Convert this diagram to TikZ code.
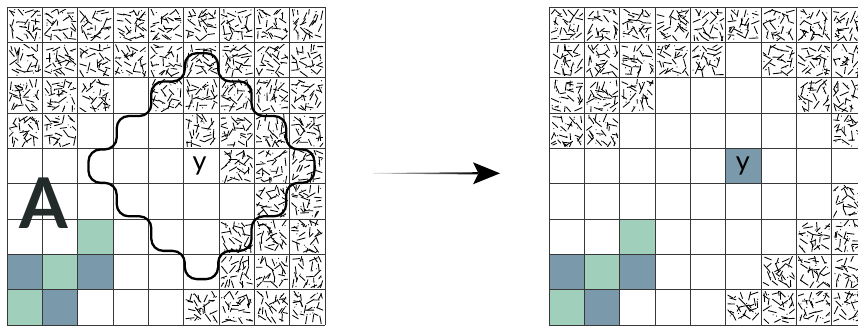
\documentclass[tikz,border=0pt]{standalone}
\usepackage{fontspec}
\setmainfont{Lato}
\usetikzlibrary{calc}
\definecolor{cellblue}{HTML}{7A99AB}
\definecolor{cellgreen}{HTML}{A0D0BB}
\definecolor{gridcol}{HTML}{383838}
\definecolor{inkcol}{HTML}{222A2A}
\tikzset{
  gridline/.style={draw=gridcol, line width=1pt},
  hatchstroke/.style={draw=black, line width=0.85pt},
  contour/.style={draw=black, line width=2.3pt, rounded corners=12pt},
  bluecell/.style={fill=cellblue},
  greencell/.style={fill=cellgreen},
}
\newcommand\hatchcell[2]{%
  \begin{scope}
    \clip (#1+0.05,#2+0.05) rectangle (#1+0.95,#2+0.95);
    \foreach \gi in {0,...,3}{%
      \foreach \gj in {0,...,3}{%
        \pgfmathsetmacro\hx{#1+0.06+(\gi+0.5)*0.22+0.16*(rnd-0.5)}%
        \pgfmathsetmacro\hy{#2+0.06+(\gj+0.5)*0.22+0.16*(rnd-0.5)}%
        \pgfmathsetmacro\ha{180*rnd}%
        \pgfmathsetmacro\hb{\ha+180}%
        \pgfmathsetmacro\hl{0.09+0.05*rnd}%
        \pgfmathsetmacro\hL{2*\hl}%
        \draw[hatchstroke] (\hx,\hy) ++(\ha:\hl) -- ++(\hb:\hL);
      }}
    \foreach \k in {1,...,8}{%
      \pgfmathsetmacro\hx{#1+0.08+0.84*rnd}%
      \pgfmathsetmacro\hy{#2+0.08+0.84*rnd}%
      \pgfmathsetmacro\ha{180*rnd}%
      \pgfmathsetmacro\hb{\ha+180}%
      \pgfmathsetmacro\hl{0.06+0.04*rnd}%
      \pgfmathsetmacro\hL{2*\hl}%
      \draw[hatchstroke] (\hx,\hy) ++(\ha:\hl) -- ++(\hb:\hL);
    }
    \foreach \k in {1,...,10}{%
      \pgfmathsetmacro\hx{#1+0.07+0.86*rnd}%
      \pgfmathsetmacro\hy{#2+0.07+0.86*rnd}%
      \fill[black] (\hx,\hy) circle[radius=0.6pt];
    }
  \end{scope}}
\newcommand\colorcells{%
  \fill[greencell] (2,6) rectangle (3,7);
  \fill[greencell] (1,7) rectangle (2,8);
  \fill[greencell] (0,8) rectangle (1,9);
  \fill[bluecell] (0,7) rectangle (1,8);
  \fill[bluecell] (2,7) rectangle (3,8);
  \fill[bluecell] (1,8) rectangle (2,9);}
\newcommand\gridlines{%
  \foreach \i in {0,...,9}{%
    \draw[gridline] (\i,0) -- (\i,9);
    \draw[gridline] (0,\i) -- (9,\i);}}
\begin{document}
\begin{tikzpicture}
\pgfmathsetseed{4242}
\useasboundingbox (0,0) rectangle (858pt,-325pt);
\fill[white] (0,0) rectangle (858pt,-325pt);
% left grid
\begin{scope}[shift={(7.3pt,-7.3pt)}, x=35.3pt, y=-35.3pt]
  \colorcells
  \foreach \rw/\cols in {0/{0,1,2,3,4,5,6,7,8}, 1/{0,1,2,3,4,5,6,7,8}, 2/{0,1,2,4,5,6,7,8}, 3/{0,1,5,6,7,8}, 4/{6,7,8}, 5/{7,8}, 6/{6,7,8}, 7/{6,7,8}, 8/{5,6,7,8}}{%
    \foreach \cc in \cols {\hatchcell{\cc}{\rw}}}
  \gridlines
  \def\sa{0.473}\def\sb{1.42}\def\sc{2.40}\def\sd{3.2}
  \draw[contour] ($(5.5,4.5)+(-\sa,-\sd)$) -- ++(2*\sa,0)
    -- ($(5.5,4.5)+(\sa,-\sc)$) -- ($(5.5,4.5)+(\sb,-\sc)$)
    -- ($(5.5,4.5)+(\sb,-\sb)$) -- ($(5.5,4.5)+(\sc,-\sb)$)
    -- ($(5.5,4.5)+(\sc,-\sa)$) -- ($(5.5,4.5)+(\sd,-\sa)$)
    -- ($(5.5,4.5)+(\sd,\sa)$) -- ($(5.5,4.5)+(\sc,\sa)$)
    -- ($(5.5,4.5)+(\sc,\sb)$) -- ($(5.5,4.5)+(\sb,\sb)$)
    -- ($(5.5,4.5)+(\sb,\sc)$) -- ($(5.5,4.5)+(\sa,\sc)$)
    -- ($(5.5,4.5)+(\sa,\sd)$) -- ($(5.5,4.5)+(-\sa,\sd)$)
    -- ($(5.5,4.5)+(-\sa,\sc)$) -- ($(5.5,4.5)+(-\sb,\sc)$)
    -- ($(5.5,4.5)+(-\sb,\sb)$) -- ($(5.5,4.5)+(-\sc,\sb)$)
    -- ($(5.5,4.5)+(-\sc,\sa)$) -- ($(5.5,4.5)+(-\sd,\sa)$)
    -- ($(5.5,4.5)+(-\sd,-\sa)$) -- ($(5.5,4.5)+(-\sc,-\sa)$)
    -- ($(5.5,4.5)+(-\sc,-\sb)$) -- ($(5.5,4.5)+(-\sb,-\sb)$)
    -- ($(5.5,4.5)+(-\sb,-\sc)$) -- ($(5.5,4.5)+(-\sa,-\sc)$) -- cycle;
  \node[font=\fontsize{70}{70}\selectfont\bfseries, text=inkcol, anchor=base, inner sep=0pt] (labA) at (1.025,6.252) {A};
  \node[font=\fontsize{27}{27}\selectfont, text=black, anchor=base, inner sep=0pt] (labYl) at (5.45,4.61) {y};
\end{scope}
% right grid
\begin{scope}[shift={(549.3pt,-7.3pt)}, x=35.3pt, y=-35.3pt]
  \colorcells
  \fill[bluecell] (5,4) rectangle (6,5);
  \foreach \rw/\cols in {0/{0,1,2,3,4,5,6,7,8}, 1/{0,1,2,3,4,6,7,8}, 2/{0,1,2,7,8}, 3/{0,1,8}, 5/{8}, 6/{7,8}, 7/{6,7,8}, 8/{5,6,7,8}}{%
    \foreach \cc in \cols {\hatchcell{\cc}{\rw}}}
  \gridlines
  \node[font=\fontsize{27}{27}\selectfont, text=black, anchor=base, inner sep=0pt] (labYr) at (5.48,4.61) {y};
\end{scope}
% arrow
\coordinate (arrS) at (373pt,-173.3pt);
\coordinate (arrE) at (500pt,-173.3pt);
\shade[left color=black!15, right color=black]
  ($(arrS)+(0,0.3pt)$) -- ($(arrE)+(-22pt,1.1pt)$) -- ($(arrE)+(-22pt,-1.1pt)$) -- ($(arrS)+(0,-0.3pt)$) -- cycle;
\fill[black] (arrE) -- ($(arrE)+(-27pt,11pt)$) -- ($(arrE)+(-21.5pt,0)$) -- ($(arrE)+(-27pt,-11pt)$) -- cycle;
\end{tikzpicture}
\end{document}
